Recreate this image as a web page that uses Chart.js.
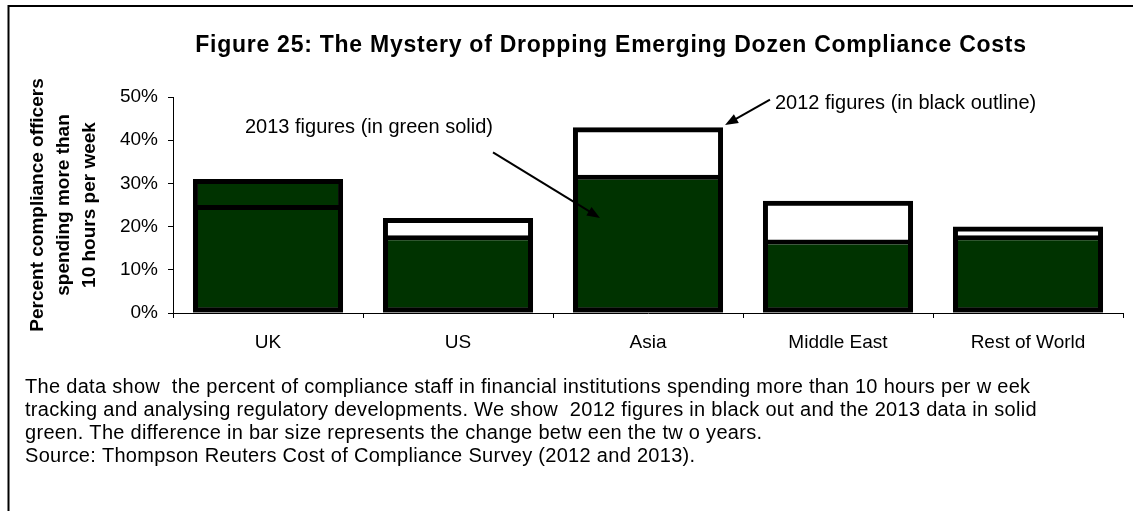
<!DOCTYPE html>
<html><head><meta charset="utf-8">
<script src="https://cdn.jsdelivr.net/npm/chart.js@4.4.1/dist/chart.umd.min.js"></script>
<style>html,body{margin:0;padding:0;background:#fff;}#wrap{position:relative;width:1133px;height:511px;}</style>
</head><body><div id="wrap"><canvas id="c" width="1133" height="511"></canvas></div>
<script>
const categories = ['UK', 'US', 'Asia', 'Middle East', 'Rest of World'];
const values2012 = [25, 22, 43, 26, 20];
const values2013 = [31, 18, 32, 17, 18];
const yTicks = [0, 10, 20, 30, 40, 50];
const titleText = 'Figure 25: The Mystery of Dropping Emerging Dozen Compliance Costs';
const yTitleLines = ['Percent compliance officers', 'spending more than', '10 hours per week'];
const note2013 = '2013 figures (in green solid)';
const note2012 = '2012 figures (in black outline)';
const captionLines = [
  'The data show  the percent of compliance staff in financial institutions spending more than 10 hours per w eek',
  'tracking and analysing regulatory developments. We show  2012 figures in black out and the 2013 data in solid',
  'green. The difference in bar size represents the change betw een the tw o years.',
  'Source: Thompson Reuters Cost of Compliance Survey (2012 and 2013).'
];

const FONT = '"Liberation Sans", Arial, sans-serif';

function arrow(ctx, x1, y1, x2, y2) {
  const ang = Math.atan2(y2 - y1, x2 - x1);
  const L = 13, W = 5;
  ctx.beginPath();
  ctx.moveTo(x1, y1);
  ctx.lineTo(x2 - Math.cos(ang) * (L - 2), y2 - Math.sin(ang) * (L - 2));
  ctx.lineWidth = 2;
  ctx.strokeStyle = '#000';
  ctx.stroke();
  ctx.beginPath();
  ctx.moveTo(x2, y2);
  ctx.lineTo(x2 - Math.cos(ang) * L - Math.sin(ang) * W, y2 - Math.sin(ang) * L + Math.cos(ang) * W);
  ctx.lineTo(x2 - Math.cos(ang) * L + Math.sin(ang) * W, y2 - Math.sin(ang) * L - Math.cos(ang) * W);
  ctx.closePath();
  ctx.fillStyle = '#000';
  ctx.fill();
}

const decor = {
  id: 'decor',
  beforeDraw(chart) {
    const ctx = chart.ctx;
    ctx.save();
    ctx.fillStyle = '#fff';
    ctx.fillRect(0, 0, chart.width, chart.height);
    ctx.strokeStyle = '#000';
    ctx.lineWidth = 2;
    ctx.strokeRect(8.5, 6, 1300, 700);
    ctx.restore();
  },
  afterDraw(chart) {
    const ctx = chart.ctx;
    const xs = chart.scales.x, ys = chart.scales.y;
    ctx.save();
    // title
    ctx.fillStyle = '#000';
    ctx.font = 'bold 23px ' + FONT;
    ctx.letterSpacing = '0.75px';
    ctx.textAlign = 'center';
    ctx.textBaseline = 'middle';
    ctx.fillText(titleText, 611, 46);
    ctx.letterSpacing = '0px';
    // annotations
    ctx.font = '20px ' + FONT;
    ctx.textAlign = 'left';
    const asiaX = xs.getPixelForValue(2);
    const ukX = xs.getPixelForValue(0);
    const barHalf = (xs.getPixelForValue(1) - xs.getPixelForValue(0)) * 0.79 / 2;
    ctx.fillText(note2013, ukX - 23, ys.getPixelForValue(42.9));
    ctx.fillText(note2012, asiaX + 127, ys.getPixelForValue(48.6));
    arrow(ctx, asiaX - 155, ys.getPixelForValue(37.2), asiaX - 48, ys.getPixelForValue(22));
    arrow(ctx, asiaX + 122, ys.getPixelForValue(49.4), asiaX + barHalf + 2, ys.getPixelForValue(43.5));
    // caption
    ctx.font = '20px ' + FONT;
    ctx.letterSpacing = '0.3px';
    ctx.textBaseline = 'middle';
    const cy = [387, 410, 433, 456];
    captionLines.forEach((t, i) => ctx.fillText(t, 25, cy[i]));
    ctx.restore();
  }
};

new Chart(document.getElementById('c'), {
  type: 'bar',
  data: {
    labels: categories,
    datasets: [
      {
        label: '2012',
        data: values2012,
        backgroundColor: 'rgba(0,0,0,0)',
        borderColor: '#000',
        borderWidth: 5,
        borderSkipped: false,
        grouped: false,
        order: 1,
        inflateAmount: 0,
        barPercentage: 0.79,
        categoryPercentage: 1
      },
      {
        label: '2013',
        data: values2013,
        backgroundColor: '#003300',
        borderColor: '#000',
        borderWidth: 5,
        borderSkipped: false,
        grouped: false,
        order: 2,
        inflateAmount: 0,
        barPercentage: 0.79,
        categoryPercentage: 1
      }
    ]
  },
  options: {
    responsive: false,
    animation: false,
    devicePixelRatio: 1,
    layout: { padding: { top: 97, right: 10, bottom: 0, left: 10 } },
    plugins: { legend: { display: false }, title: { display: false }, tooltip: { enabled: false } },
    scales: {
      x: {
        grid: { display: true, drawOnChartArea: false, drawTicks: true, tickLength: 5, color: '#000', offset: true },
        border: { display: true, color: '#000', width: 1 },
        ticks: { color: '#000', font: { family: FONT, size: 19 }, padding: 13, maxRotation: 0, autoSkip: false },
        afterFit(s) { s.height = 198; }
      },
      y: {
        min: 0, max: 50,
        grid: { display: true, drawOnChartArea: false, drawTicks: true, tickLength: 5, color: '#000' },
        border: { display: true, color: '#000', width: 1 },
        afterBuildTicks(s) { s.ticks = yTicks.map(v => ({ value: v })); },
        ticks: { color: '#000', font: { family: FONT, size: 19 }, padding: 10, callback: v => v + '%' },
        title: {
          display: true,
          text: yTitleLines,
          color: '#000',
          font: { family: FONT, size: 19, weight: 'bold', lineHeight: 1.37 },
          padding: { top: 15, bottom: 0 }
        },
        afterFit(s) { s.width = 163; }
      }
    }
  },
  plugins: [decor]
});
</script>
</body></html>
